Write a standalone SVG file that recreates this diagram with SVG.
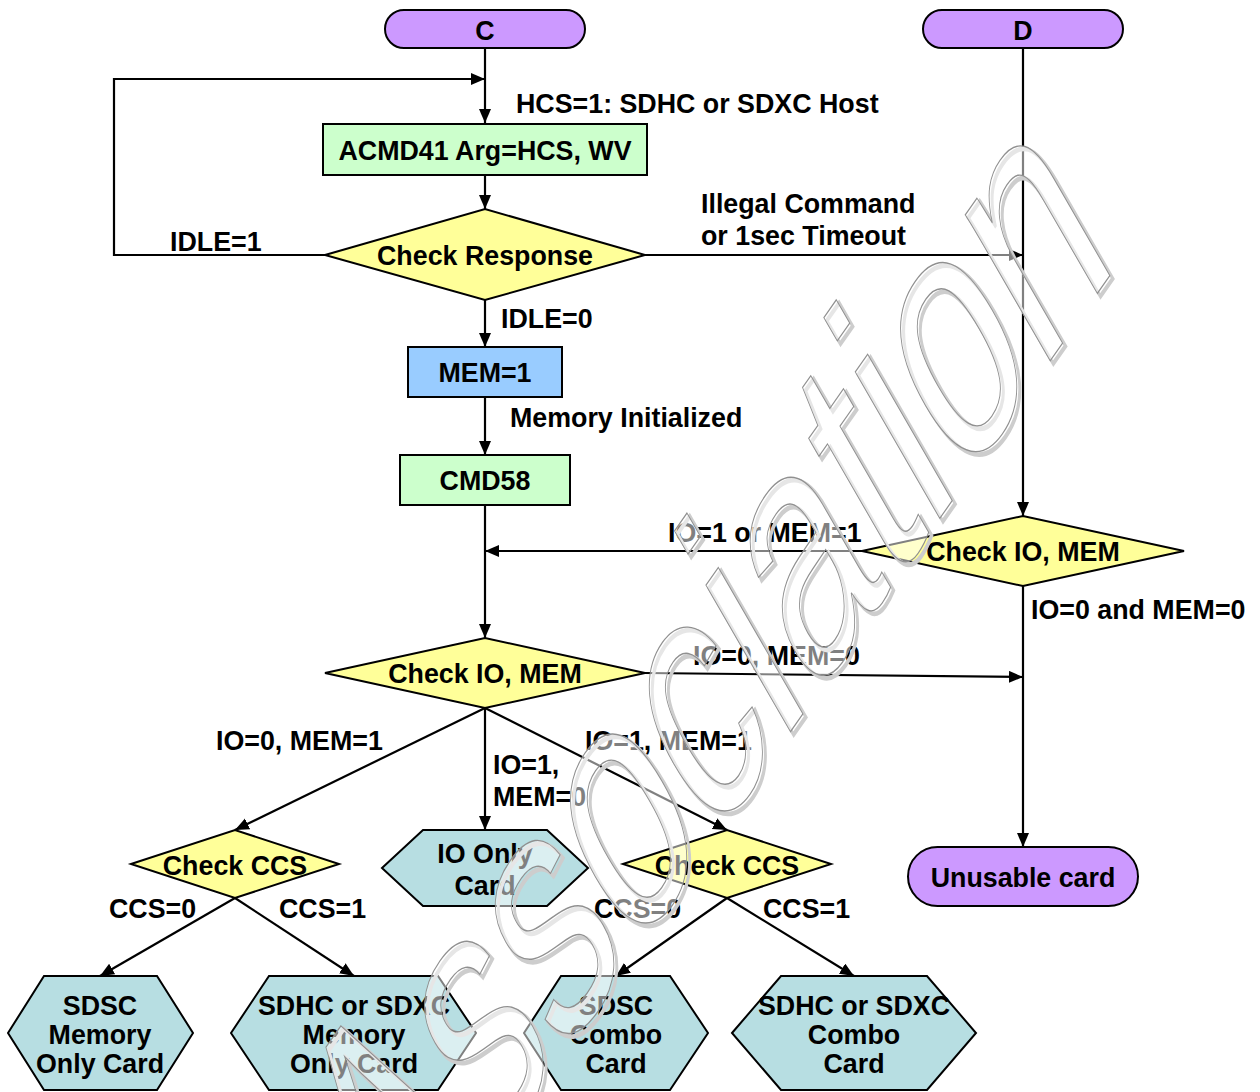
<svg xmlns="http://www.w3.org/2000/svg" width="1260" height="1092" viewBox="0 0 1260 1092">
<defs>
<style>
text{font-family:"Liberation Sans",Arial,sans-serif;font-weight:bold;font-size:26.8px;fill:#000}
.c{text-anchor:middle}
.term{fill:#cc99ff;stroke:#000;stroke-width:2}
.proc{fill:#ccffcc;stroke:#000;stroke-width:2}
.mem{fill:#99ccff;stroke:#000;stroke-width:2}
.dec{fill:#ffff99;stroke:#000;stroke-width:2}
.card{fill:#b7dee2;stroke:#000;stroke-width:2}
.ln{fill:none;stroke:#000;stroke-width:2.2}
.wm{font-family:"Liberation Sans",Arial,sans-serif;font-weight:normal;font-size:290px}
</style>
<marker id="ah" markerUnits="userSpaceOnUse" markerWidth="16" markerHeight="14" refX="14" refY="6" orient="auto">
<path d="M0,0 L14,6 L0,12 Z" fill="#000"/>
</marker>
</defs>
<rect width="1260" height="1092" fill="#fff"/>

<g id="connectors">
<path class="ln" d="M485,48 V123" marker-end="url(#ah)"/>
<path class="ln" d="M325,255 H114 V79 H485" marker-end="url(#ah)"/>
<path class="ln" d="M485,175 V209" marker-end="url(#ah)"/>
<path class="ln" d="M645,255 H1023" marker-end="url(#ah)"/>
<path class="ln" d="M485,300 V347" marker-end="url(#ah)"/>
<path class="ln" d="M485,397 V455" marker-end="url(#ah)"/>
<path class="ln" d="M485,505 V638" marker-end="url(#ah)"/>
<path class="ln" d="M1023,48 V516" marker-end="url(#ah)"/>
<path class="ln" d="M862,551 H485" marker-end="url(#ah)"/>
<path class="ln" d="M1023,586 V847" marker-end="url(#ah)"/>
<path class="ln" d="M645,673 L1023,677" marker-end="url(#ah)"/>
<path class="ln" d="M485,708 L235,830" marker-end="url(#ah)"/>
<path class="ln" d="M485,708 V830" marker-end="url(#ah)"/>
<path class="ln" d="M485,708 L727,830" marker-end="url(#ah)"/>
<path class="ln" d="M235,898 L100,976" marker-end="url(#ah)"/>
<path class="ln" d="M235,898 L354,976" marker-end="url(#ah)"/>
<path class="ln" d="M727,898 L616,976" marker-end="url(#ah)"/>
<path class="ln" d="M727,898 L854,976" marker-end="url(#ah)"/>
</g>

<g id="labels">
<text x="516" y="113">HCS=1: SDHC or SDXC Host</text>
<text x="701" y="213">Illegal Command</text>
<text x="701" y="245">or 1sec Timeout</text>
<text x="170" y="251">IDLE=1</text>
<text x="501" y="328">IDLE=0</text>
<text x="510" y="427">Memory Initialized</text>
<text x="668" y="542">IO=1 or MEM=1</text>
<text x="1031" y="619">IO=0 and MEM=0</text>
<text x="693" y="665">IO=0, MEM=0</text>
<text x="216" y="750">IO=0, MEM=1</text>
<text x="585" y="750">IO=1, MEM=1</text>
<text x="493" y="774">IO=1,</text>
<text x="493" y="806">MEM=0</text>
<text x="109" y="918">CCS=0</text>
<text x="279" y="918">CCS=1</text>
<text x="594" y="918">CCS=0</text>
<text x="763" y="918">CCS=1</text>
</g>

<g id="node-c"><rect class="term" x="385" y="10" width="200" height="38" rx="19"/><text class="c" x="485" y="40">C</text></g>
<g id="node-d"><rect class="term" x="923" y="10" width="200" height="38" rx="19"/><text class="c" x="1023" y="40">D</text></g>
<g id="node-acmd41"><rect class="proc" x="323" y="124" width="324" height="51"/><text class="c" x="485" y="160">ACMD41 Arg=HCS, WV</text></g>
<g id="node-check-response"><polygon class="dec" points="325,255 485,209 645,255 485,300"/><text class="c" x="485" y="265">Check Response</text></g>
<g id="node-mem1"><rect class="mem" x="408" y="347" width="154" height="50"/><text class="c" x="485" y="382">MEM=1</text></g>
<g id="node-cmd58"><rect class="proc" x="400" y="455" width="170" height="50"/><text class="c" x="485" y="490">CMD58</text></g>
<g id="node-check-io-right"><polygon class="dec" points="862,551 1023,516 1184,551 1023,586"/><text class="c" x="1023" y="561">Check IO, MEM</text></g>
<g id="node-check-io-left"><polygon class="dec" points="325,673 485,638 645,673 485,708"/><text class="c" x="485" y="683">Check IO, MEM</text></g>
<g id="node-check-ccs-left"><polygon class="dec" points="131,864 235,830 339,864 235,898"/><text class="c" x="235" y="875">Check CCS</text></g>
<g id="node-io-only"><polygon class="card" points="382,868 423,830 547,830 588,868 547,906 423,906"/><text class="c" x="485" y="863">IO Only</text><text class="c" x="485" y="895">Card</text></g>
<g id="node-check-ccs-right"><polygon class="dec" points="623,864 727,830 831,864 727,898"/><text class="c" x="727" y="875">Check CCS</text></g>
<g id="node-unusable"><rect class="term" x="908" y="847" width="230" height="59" rx="29.5"/><text class="c" x="1023" y="887">Unusable card</text></g>
<g id="node-sdsc-mem"><polygon class="card" points="8,1033 44,976 157,976 193,1033 157,1090 44,1090"/><text class="c" x="100" y="1015">SDSC</text><text class="c" x="100" y="1044">Memory</text><text class="c" x="100" y="1073">Only Card</text></g>
<g id="node-sdhc-mem"><polygon class="card" points="231,1033 269,976 438,976 476,1033 438,1090 269,1090"/><text class="c" x="354" y="1015">SDHC or SDXC</text><text class="c" x="354" y="1044">Memory</text><text class="c" x="354" y="1073">Only Card</text></g>
<g id="node-sdsc-combo"><polygon class="card" points="524,1033 561,976 670,976 708,1033 670,1090 561,1090"/><text class="c" x="616" y="1015">SDSC</text><text class="c" x="616" y="1044">Combo</text><text class="c" x="616" y="1073">Card</text></g>
<g id="node-sdhc-combo"><polygon class="card" points="732,1033 781,976 927,976 976,1033 927,1090 781,1090"/><text class="c" x="854" y="1015">SDHC or SDXC</text><text class="c" x="854" y="1044">Combo</text><text class="c" x="854" y="1073">Card</text></g>

<g id="watermark">
<text class="wm" transform="translate(399,1298) rotate(-55) skewX(-25) scale(0.85,1)" style="fill:none;stroke:#cdcdcd;stroke-width:4">Association</text>
<text class="wm" transform="translate(396,1295) rotate(-55) skewX(-25) scale(0.85,1)" style="fill:#fff;fill-opacity:0.5;stroke:#909090;stroke-width:1.2">Association</text>
</g>
</svg>
